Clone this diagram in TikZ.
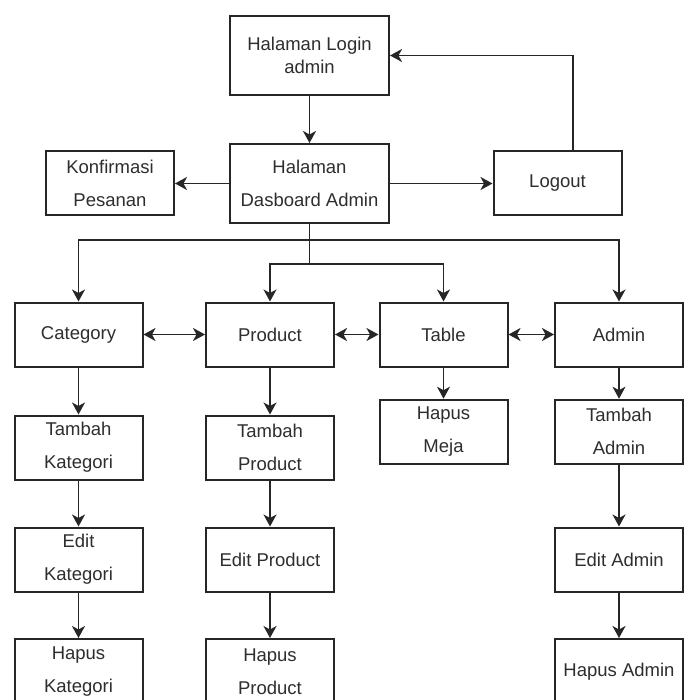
\documentclass[tikz,border=0pt]{standalone}
\usepackage{fontspec}
\setmainfont{Liberation Sans}
\usetikzlibrary{arrows.meta}

\begin{document}
\begin{tikzpicture}[%
  x=1pt, y=-1pt,
  box/.style={draw=black!85, line width=2pt, fill=white, align=center,
    inner sep=0pt, minimum width=128pt, minimum height=64pt, text=black!82,
    font=\fontsize{18.5}{33}\selectfont},
  wide/.style={minimum width=159pt, minimum height=79pt},
  tip/.tip={Stealth[length=12pt,width=13pt,inset=3.5pt]},
  link/.style={draw=black!85, line width=1.8pt, -tip},
  both/.style={draw=black!85, line width=1.8pt, tip-tip}]

  \useasboundingbox (0,0) rectangle (688,700);

  % top
  \node[box, wide, font=\fontsize{18.5}{23.5}\selectfont] (login) at (309.5,55.5) {Halaman Login\\admin};
  \node[box, wide] (dash) at (309.5,183.5) {Halaman\\Dasboard Admin};
  \node[box] (konf) at (110,183.5) {Konfirmasi\\Pesanan};
  \node[box] (logout) at (557.5,183.5) {Logout};

  % menus
  \node[box] (cat) at (78.5,334.5) {Category};
  \node[box] (prod) at (270,334.5) {Product};
  \node[box] (tbl) at (443.5,334.5) {Table};
  \node[box] (adm) at (619,334.5) {Admin};

  \node[box] (tkat) at (78.5,447.5) {Tambah\\Kategori};
  \node[box] (ekat) at (78.5,559.5) {Edit\\Kategori};
  \node[box, minimum height=66pt] (hkat) at (78.5,672) {Hapus\\Kategori};

  \node[box] (tprod) at (270,447.5) {Tambah\\Product};
  \node[box] (eprod) at (270,559.5) {Edit Product};
  \node[box, minimum height=66pt] (hprod) at (270,672) {Hapus\\Product};

  \node[box] (hmeja) at (443.5,431.7) {Hapus\\Meja};

  \node[box] (tadm) at (619,431.7) {Tambah\\Admin};
  \node[box] (eadm) at (619,559.5) {Edit Admin};
  \node[box, minimum height=66pt] (hadm) at (619,672) {Hapus Admin};

  % links
  \draw[link] (login) -- (dash);
  \draw[link] (dash) -- (konf);
  \draw[link] (dash) -- (logout);
  \draw[link] ([xshift=15.5pt]logout.north) |- (login.east);

  \draw[link] (dash.south) -- ++(0,16) -| (cat.north);
  \draw[link] (dash.south) -- ++(0,16) -| (adm.north);
  \draw[link] (dash.south) -- ++(0,40) -| (prod.north);
  \draw[link] (dash.south) -- ++(0,40) -| (tbl.north);

  \draw[both] (cat) -- (prod);
  \draw[both] (prod) -- (tbl);
  \draw[both] (tbl) -- (adm);

  \foreach \from/\to in {cat/tkat, tkat/ekat, ekat/hkat,
      prod/tprod, tprod/eprod, eprod/hprod,
      tbl/hmeja,
      adm/tadm, tadm/eadm, eadm/hadm}
    \draw[link] (\from) -- (\to);
\end{tikzpicture}
\end{document}
